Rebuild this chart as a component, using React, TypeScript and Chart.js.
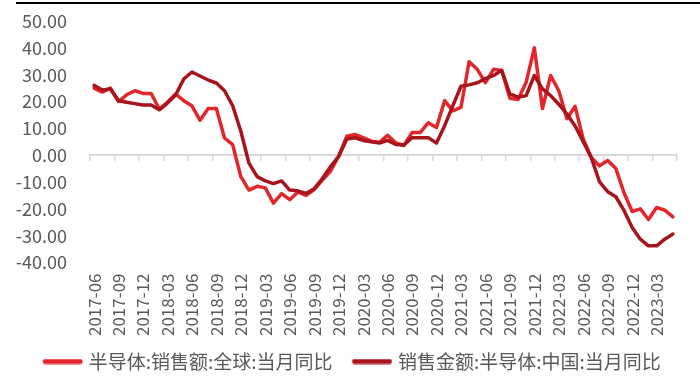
import React, { useEffect, useRef } from 'react';
import { Chart, registerables } from 'chart.js';

Chart.register(...registerables);

const categories = [
  '2017-06', '2017-07', '2017-08', '2017-09', '2017-10', '2017-11', '2017-12',
  '2018-01', '2018-02', '2018-03', '2018-04', '2018-05', '2018-06', '2018-07', '2018-08', '2018-09', '2018-10', '2018-11', '2018-12',
  '2019-01', '2019-02', '2019-03', '2019-04', '2019-05', '2019-06', '2019-07', '2019-08', '2019-09', '2019-10', '2019-11', '2019-12',
  '2020-01', '2020-02', '2020-03', '2020-04', '2020-05', '2020-06', '2020-07', '2020-08', '2020-09', '2020-10', '2020-11', '2020-12',
  '2021-01', '2021-02', '2021-03', '2021-04', '2021-05', '2021-06', '2021-07', '2021-08', '2021-09', '2021-10', '2021-11', '2021-12',
  '2022-01', '2022-02', '2022-03', '2022-04', '2022-05', '2022-06', '2022-07', '2022-08', '2022-09', '2022-10', '2022-11', '2022-12',
  '2023-01', '2023-02', '2023-03', '2023-04', '2023-05',
];

// 半导体:销售额:全球:当月同比
const globalYoY = [
  25, 23.5, 25, 20, 22.5, 24, 23, 23, 17.2, 19.7, 22.8, 20.3,
  18.4, 13, 17.4, 17.4, 6.4, 3.9, -8, -13, -11.6, -12.2, -17.9, -14.3,
  -16.6, -13.7, -15, -12.8, -9.3, -6, -0.4, 7.1, 7.7, 6.5, 5.2, 4.8,
  7.4, 4.6, 3.6, 8.4, 8.4, 12.1, 10.3, 20.3, 16.5, 17.8, 34.8, 32,
  27, 32, 31.6, 21.2, 20.7, 27.2, 40, 17.4, 29.7, 24, 13.6, 18.2,
  6, -1, -4, -2, -5, -14, -21, -20, -24, -19.5, -20.5, -23,
];

// 销售金额:半导体:中国:当月同比
const chinaYoY = [
  26, 24.3, 24.7, 20.3, 19.7, 19.2, 18.7, 18.7, 16.9, 19.4, 22.4, 28.4,
  31, 29.5, 28, 26.9, 24, 18.4, 8.9, -3, -8, -9.6, -10.6, -9.6,
  -13, -13.3, -14.3, -12.5, -8.7, -4.3, -0.5, 6, 6.5, 5.5, 5, 4.5,
  5.5, 4, 3.8, 6.5, 6.5, 6.5, 4.5, 11, 18.4, 25.7, 26.2, 27,
  28.5, 29.7, 31.6, 22.8, 21.6, 22.2, 29.7, 24.7, 22.2, 19, 15.3, 10.9,
  5, -1, -10, -13.6, -15.5, -20.6, -27, -31.3, -33.8, -33.8, -31.3, -29.4,
];

const seriesNames = ['半导体:销售额:全球:当月同比', '销售金额:半导体:中国:当月同比'];
const seriesColors = ['#E3262C', '#A8141B'];
const yMin = -40;
const yMax = 50;
const yStep = 10;

const FONT = "'Noto Sans CJK SC', 'Noto Sans', sans-serif";
const TEXT = '#595959';
const AXIS = '#D9D9D9';

// legend sample: a short thick line, shifted right inside its image so it sits close to the text
function legendLine(color: string): HTMLCanvasElement {
  const c = document.createElement('canvas');
  c.width = 48;
  c.height = 6;
  const g = c.getContext('2d')!;
  g.strokeStyle = color;
  g.lineWidth = 5;
  g.lineCap = 'round';
  g.beginPath();
  g.moveTo(10, 3);
  g.lineTo(45, 3);
  g.stroke();
  return c;
}

export default function App() {
  const ref = useRef<HTMLCanvasElement>(null);

  useEffect(() => {
    if (!ref.current) return;
    Chart.defaults.font.family = FONT;
    const chart = new Chart(ref.current, {
      type: 'line',
      data: {
        labels: categories,
        datasets: [
          {
            label: seriesNames[0],
            data: globalYoY,
            borderColor: seriesColors[0],
            backgroundColor: seriesColors[0],
            borderWidth: 3.5,
            pointRadius: 0,
            tension: 0,
            borderJoinStyle: 'round',
            borderCapStyle: 'round',
            order: 1,
            xAxisID: 'x',
            yAxisID: 'y',
          },
          {
            label: seriesNames[1],
            data: chinaYoY,
            borderColor: seriesColors[1],
            backgroundColor: seriesColors[1],
            borderWidth: 3.5,
            pointRadius: 0,
            tension: 0,
            borderJoinStyle: 'round',
            borderCapStyle: 'round',
            order: 0,
            xAxisID: 'x',
            yAxisID: 'y',
          },
        ],
      },
      options: {
        animation: false,
        responsive: true,
        maintainAspectRatio: false,
        layout: { padding: { left: 0, right: 0, top: 13, bottom: 0 } },
        plugins: {
          tooltip: { enabled: false },
          legend: {
            position: 'bottom',
            labels: {
              usePointStyle: true,
              pointStyleWidth: 40,
              color: TEXT,
              font: { size: 19, family: FONT },
              padding: 16,
              sort: (a: any, b: any) => a.datasetIndex - b.datasetIndex,
              generateLabels: (c: any) => {
                const items = Chart.defaults.plugins.legend.labels.generateLabels(c);
                items.forEach((it: any) => {
                  it.pointStyle = legendLine(seriesColors[it.datasetIndex]);
                  it.rotation = 0;
                });
                return items;
              },
            },
          },
        },
        scales: {
          y: {
            min: yMin,
            max: yMax,
            ticks: {
              stepSize: yStep,
              color: TEXT,
              font: { size: 18, family: FONT },
              padding: 23,
              callback: (v: any) => Number(v).toFixed(2),
            },
            grid: { display: false, drawTicks: false },
            border: { display: false },
            afterFit: (s: any) => {
              s.width = 82;
              s.paddingTop = 0;
              s.paddingBottom = 0;
            },
          },
          x: {
            type: 'category',
            position: { y: 0 },
            offset: true,
            grid: {
              offset: true,
              drawOnChartArea: false,
              drawTicks: true,
              tickLength: 5,
              lineWidth: 1.5,
              color: (ctx: any) =>
                ctx.type !== 'tick' || ctx.index % 3 === 0 ? AXIS : 'rgba(0,0,0,0)',
            },
            border: { display: true, color: AXIS, width: 2 },
            ticks: { display: false },
          },
          x2: {
            type: 'category',
            position: 'bottom',
            offset: true,
            grid: { display: false, drawTicks: false },
            border: { display: false },
            ticks: {
              autoSkip: false,
              maxRotation: 90,
              minRotation: 90,
              padding: 11,
              color: TEXT,
              font: { size: 17, family: FONT },
              callback: (_v: any, i: number) => (i % 3 === 0 ? categories[i] : ''),
            },
            afterFit: (s: any) => {
              s.paddingLeft = 0;
              s.paddingRight = 15;
              s.height -= 11;
            },
          },
        },
      },
    } as any);
    return () => chart.destroy();
  }, []);

  return (
    <div>
      <div style={{ position: 'absolute', top: 2, left: 16, right: 0, borderTop: '2px solid #000' }} />
      <div style={{ position: 'relative', width: 684, height: 373 }}>
        <canvas ref={ref} />
      </div>
    </div>
  );
}
